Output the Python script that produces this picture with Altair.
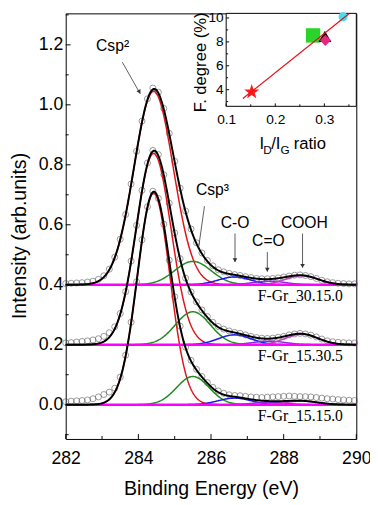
import altair as alt
import numpy as np
import pandas as pd

# ---------------- values ----------------
spectra = ["F-Gr_15.15.0", "F-Gr_15.30.5", "F-Gr_30.15.0"]
offsets = [0.0, 0.2, 0.4]

# measured points (intensity above each spectrum's baseline), 0.15 eV steps from 282.00 eV
energy_start, energy_step, n_points = 282.0, 0.15, 54
data_15_15_0 = [0.010, 0.012, 0.013, 0.014, 0.016, 0.020, 0.026, 0.034, 0.042, 0.055,
                0.092, 0.165, 0.275, 0.410, 0.550, 0.660, 0.712, 0.688, 0.602, 0.482,
                0.360, 0.262, 0.192, 0.148, 0.118, 0.094, 0.074, 0.058, 0.046, 0.038,
                0.033, 0.031, 0.030, 0.028, 0.026, 0.025, 0.024, 0.025, 0.026, 0.027,
                0.028, 0.029, 0.028, 0.027, 0.027, 0.026, 0.024, 0.022, 0.020, 0.019,
                0.017, 0.016, 0.015, 0.014]
data_15_30_5 = [0.006, 0.007, 0.009, 0.011, 0.013, 0.016, 0.020, 0.028, 0.040, 0.060,
                0.104, 0.177, 0.279, 0.398, 0.515, 0.606, 0.648, 0.634, 0.567, 0.472,
                0.373, 0.287, 0.222, 0.176, 0.143, 0.116, 0.094, 0.075, 0.061, 0.052,
                0.046, 0.041, 0.038, 0.033, 0.028, 0.024, 0.022, 0.021, 0.022, 0.025,
                0.028, 0.033, 0.036, 0.038, 0.036, 0.032, 0.026, 0.019, 0.013, 0.010,
                0.008, 0.007, 0.006, 0.006]
data_30_15_0 = [0.004, 0.005, 0.006, 0.007, 0.009, 0.012, 0.018, 0.030, 0.052, 0.092,
                0.152, 0.234, 0.336, 0.445, 0.546, 0.620, 0.656, 0.642, 0.588, 0.505,
                0.412, 0.322, 0.246, 0.186, 0.140, 0.106, 0.081, 0.063, 0.050, 0.043,
                0.038, 0.034, 0.031, 0.027, 0.024, 0.021, 0.020, 0.020, 0.021, 0.023,
                0.026, 0.029, 0.032, 0.033, 0.031, 0.027, 0.021, 0.015, 0.010, 0.007,
                0.005, 0.004, 0.003, 0.003]

# fitted Gaussian components: centre (eV), height, sigma (eV)
components = ["Csp2", "Csp3", "C-O", "C=O", "COOH"]
comp_colors = ["#e0141c", "#1f8a1f", "#1a1aee", "#8a2be2", "#c03cc0"]
centers = [284.42, 285.50, 286.65, 287.60, 288.50]
heights_15_15_0 = [0.705, 0.094, 0.022, 0.008, 0.012]
heights_15_30_5 = [0.638, 0.110, 0.033, 0.012, 0.035]
heights_30_15_0 = [0.645, 0.078, 0.026, 0.012, 0.030]
sigmas_15_15_0 = [0.45, 0.45, 0.45, 0.45, 0.45]
sigmas_15_30_5 = [0.48, 0.48, 0.45, 0.45, 0.45]
sigmas_30_15_0 = [0.54, 0.50, 0.45, 0.45, 0.45]

ann_text = ["Csp\u00b2", "Csp\u00b3", "C-O", "C=O", "COOH"]
ann_x = [283.29, 286.04, 286.66, 287.58, 288.57]
ann_y = [1.197, 0.714, 0.607, 0.545, 0.607]
arrow_x1 = [283.56, 285.82, 286.66, 287.55, 288.52]
arrow_y1 = [1.142, 0.662, 0.571, 0.509, 0.571]
arrow_x2 = [284.05, 285.66, 286.66, 287.55, 288.52]
arrow_y2 = [1.037, 0.525, 0.476, 0.444, 0.457]
head_x = [284.03, 286.66, 287.55, 288.52]
head_y = [1.043, 0.482, 0.450, 0.463]
head_angle = [150, 180, 180, 180]

label_x = [288.46, 288.46, 288.46]
label_y = [-0.039, 0.163, 0.362]

x_major = [282, 284, 286, 288, 290]
x_minor = [283, 285, 287, 289]
y_major = [0.0, 0.2, 0.4, 0.6, 0.8, 1.0, 1.2]
y_minor = [-0.1, 0.1, 0.3, 0.5, 0.7, 0.9, 1.1, 1.3]

inset_names = ["a", "b", "c", "d", "e"]
inset_ratio = [0.152, 0.277, 0.301, 0.302, 0.338]
inset_fdeg = [3.81, 8.54, 8.46, 8.13, 10.10]
star_path = ("M0,-1L0.235,-0.324L0.951,-0.309L0.38,0.124L0.588,0.809L0,0.4L-0.588,0.809"
             "L-0.38,0.124L-0.951,-0.309L-0.235,-0.324Z")
inset_shapes = [star_path, "square", "triangle-up", "diamond", "circle"]
inset_colors = ["#ff1a1a", "#2bd42b", "#000000", "#e6287d", "#40e0f0"]
inset_sizes = [260, 85, 160, 90, 125]
fit_ratio = [0.134, 0.350]
fit_fdeg = [3.26, 10.36]
inset_x_major = [0.1, 0.2, 0.3]
inset_x_minor = [0.15, 0.25, 0.35]
inset_y_major = [4, 6, 8, 10]
inset_y_minor = [3, 5, 7, 9]

# ---------------- build tables ----------------
heights = [heights_15_15_0, heights_15_30_5, heights_30_15_0]
sigmas = [sigmas_15_15_0, sigmas_15_30_5, sigmas_30_15_0]
measured = [data_15_15_0, data_15_30_5, data_30_15_0]
x_fine = np.round(np.linspace(282.0, 290.0, 401), 3)
x_data = [round(energy_start + i * energy_step, 2) for i in range(n_points)]

rows, base_rows, pts = [], [], []
for spec, off, hs, ss, meas in zip(spectra, offsets, heights, sigmas, measured):
    total = np.zeros_like(x_fine)
    for comp, h, c, s in zip(components, hs, centers, ss):
        yv = h * np.exp(-0.5 * ((x_fine - c) / s) ** 2)
        total += yv
        rows += [dict(x=a, y=off + b, spec=spec, series=comp) for a, b in zip(x_fine, yv)]
    rows += [dict(x=a, y=off + b, spec=spec, series="fit") for a, b in zip(x_fine, total)]
    base_rows += [dict(x=282.0, y=off, spec=spec), dict(x=290.0, y=off, spec=spec)]
    pts += [dict(x=a, y=off + b, spec=spec) for a, b in zip(x_data, meas)]
df = pd.DataFrame(rows)
df_base = pd.DataFrame(base_rows)
df_pts = pd.DataFrame(pts)

W, H = 297, 435
FONT = "Liberation Sans"


def sx(axis=None):
    return alt.X("x:Q", scale=alt.Scale(domain=[282, 290], nice=False, zero=False), axis=axis)


def sy(axis=None):
    return alt.Y("y:Q", scale=alt.Scale(domain=[-0.1142, 1.305], nice=False, zero=False), axis=axis)


x_axis = alt.Axis(orient="bottom", values=x_major, format="d", labelFontSize=18, labelFont=FONT,
                  labelColor="black", labelPadding=11, ticks=False, domain=False, grid=False, labelFlush=False,
                  title="Binding Energy (eV)", titleFont=FONT, titleFontSize=20, titleFontWeight="normal",
                  titleColor="black", titleY=51, titleBaseline="middle")
y_axis = alt.Axis(orient="left", values=y_major, format=".1f", labelFontSize=18, labelFont=FONT,
                  labelColor="black", labelPadding=3, ticks=False, domain=False, grid=False, labelFlush=False,
                  title="Intensity (arb.units)", titleFont=FONT, titleFontSize=20, titleFontWeight="normal",
                  titleColor="black", titleX=-47, titleY=227, titleAlign="center", titleBaseline="middle",
                  titleAngle=270)

circles = alt.Chart(df_pts).mark_point(shape="circle", filled=False, size=38, strokeWidth=0.8,
                                        color="#4d4d4d").encode(x=sx(), y=sy(), detail="spec:N")

comps = alt.Chart(df).transform_filter(alt.datum.series != "fit").mark_line(strokeWidth=1.5).encode(
    x=sx(), y=sy(), detail="spec:N",
    color=alt.Color("series:N", scale=alt.Scale(domain=components, range=comp_colors), legend=None))

base = alt.Chart(df_base).mark_line(color="#ff00ff", strokeWidth=2.5).encode(x=sx(), y=sy(), detail="spec:N")

fit = alt.Chart(df).transform_filter(alt.datum.series == "fit").mark_line(
    color="black", strokeWidth=2).encode(x=sx(x_axis), y=sy(y_axis), detail="spec:N")

df_ann = pd.DataFrame(dict(x=ann_x, y=ann_y, t=ann_text))
ann = alt.Chart(df_ann).mark_text(font=FONT, fontSize=16, color="black", align="center",
                                  baseline="middle").encode(x=sx(), y=sy(), text="t:N")

df_arr = pd.DataFrame(dict(x=arrow_x1, y=arrow_y1, x2=arrow_x2, y2=arrow_y2))
arrows = alt.Chart(df_arr).mark_rule(color="#333333", strokeWidth=0.8).encode(
    x=sx(), y=sy(), x2="x2:Q", y2="y2:Q")
df_head = pd.DataFrame(dict(x=head_x, y=head_y, a=head_angle))
heads = alt.Chart(df_head).mark_point(shape="triangle-up", filled=True, size=22, color="#333333",
                                      opacity=1).encode(x=sx(), y=sy(), angle=alt.Angle("a:Q", scale=None))

df_lab = pd.DataFrame(dict(x=label_x, y=label_y, t=spectra))
labs = alt.Chart(df_lab).mark_text(font="Liberation Serif", fontSize=16, color="black", align="center",
                                   baseline="middle").encode(x=sx(), y=sy(), text="t:N")


def xticks(vals, ln):
    d = pd.DataFrame(dict(x=vals))
    return alt.Chart(d).mark_rule(color="black", strokeWidth=1).encode(
        x=sx(), y=alt.value(H), y2=alt.value(H - ln))


def yticks(vals, ln):
    d = pd.DataFrame(dict(y=vals))
    return alt.Chart(d).mark_rule(color="black", strokeWidth=1).encode(
        y=sy(), x=alt.value(0), x2=alt.value(ln))


# ---------------- inset ----------------
IX0, IX1, IY0, IY1 = 164, 297, 0, 95


def ix(axis=None, field="r"):
    return alt.X(f"{field}:Q", scale=alt.Scale(domain=[0.1, 0.365], range=[IX0, IX1], nice=False, zero=False),
                 axis=axis)


def iy(axis=None, field="f"):
    return alt.Y(f"{field}:Q", scale=alt.Scale(domain=[2.609, 10.385], range=[IY1, IY0], nice=False, zero=False),
                 axis=axis)


frame = alt.Chart(pd.DataFrame(dict(k=[1]))).mark_rect(fill="white", stroke="black", strokeWidth=1).encode(
    x=alt.value(IX0), x2=alt.value(IX1), y=alt.value(IY0), y2=alt.value(IY1))

ix_axis = alt.Axis(orient="bottom", values=inset_x_major, format=".1f", labelFontSize=14, labelFont=FONT,
                   labelColor="black", labelPadding=7, ticks=False, domain=False, grid=False, labelFlush=False,
                   title=None, offset=-(H - IY1))
iy_axis = alt.Axis(orient="left", values=inset_y_major, format="d", labelFontSize=14, labelFont=FONT,
                   labelColor="black", labelPadding=3, ticks=False, domain=False, grid=False, labelFlush=False,
                   title=None, offset=-IX0)

df_in = pd.DataFrame(dict(r=inset_ratio, f=inset_fdeg, n=inset_names))
inset_pts = alt.Chart(df_in).mark_point(filled=True, opacity=1, strokeWidth=0).encode(
    x=ix(ix_axis), y=iy(iy_axis),
    shape=alt.Shape("n:N", scale=alt.Scale(domain=inset_names, range=inset_shapes), legend=None),
    color=alt.Color("n:N", scale=alt.Scale(domain=inset_names, range=inset_colors), legend=None),
    size=alt.Size("n:N", scale=alt.Scale(domain=inset_names, range=inset_sizes), legend=None))

fit_line = alt.Chart(pd.DataFrame(dict(r=fit_ratio, f=fit_fdeg))).mark_line(
    color="#e8101a", strokeWidth=1.2).encode(x=ix(), y=iy())


def ixticks(vals, ln):
    return alt.Chart(pd.DataFrame(dict(r=vals))).mark_rule(color="black", strokeWidth=1).encode(
        x=ix(), y=alt.value(IY1), y2=alt.value(IY1 - ln))


def iyticks(vals, ln):
    return alt.Chart(pd.DataFrame(dict(f=vals))).mark_rule(color="black", strokeWidth=1).encode(
        y=iy(), x=alt.value(IX0), x2=alt.value(IX0 + ln))


title_parts = pd.DataFrame(dict(
    t=["I", "D", "/I", "G", "ratio"],
    px=[198, 202, 210, 219.5, 233],
    py=[139, 144, 139, 144, 139],
    fs=[17, 12, 17, 12, 17]))
ititle = alt.Chart(title_parts).mark_text(font=FONT, color="black", align="left", baseline="alphabetic").encode(
    x=alt.X("px:Q", scale=None), y=alt.Y("py:Q", scale=None), text="t:N",
    size=alt.Size("fs:Q", scale=None))
ytitle = alt.Chart(pd.DataFrame(dict(t=["F. degree (%)"]))).mark_text(
    font=FONT, fontSize=17, color="black", align="center", baseline="middle", angle=270).encode(
    x=alt.value(138), y=alt.value(50), text="t:N")

chart = alt.layer(
    circles, comps, base, fit, ann, arrows, heads, labs,
    xticks(x_major, 5), xticks(x_minor, 3), yticks(y_major, 5), yticks(y_minor, 3),
    frame, inset_pts, fit_line,
    ixticks(inset_x_major, 3), ixticks(inset_x_minor, 2), iyticks(inset_y_major, 3), iyticks(inset_y_minor, 2),
    ititle, ytitle,
).resolve_scale(x="independent", y="independent", color="independent", shape="independent",
                size="independent").properties(
    width=W, height=H,
    padding={"left": 59, "top": 0, "right": 14, "bottom": 62},
    autosize=alt.AutoSizeParams(type="none"),
    background="white",
).configure_view(stroke="black", strokeWidth=1)

chart.save("out.html", embed_options={"renderer": "svg", "actions": False})
